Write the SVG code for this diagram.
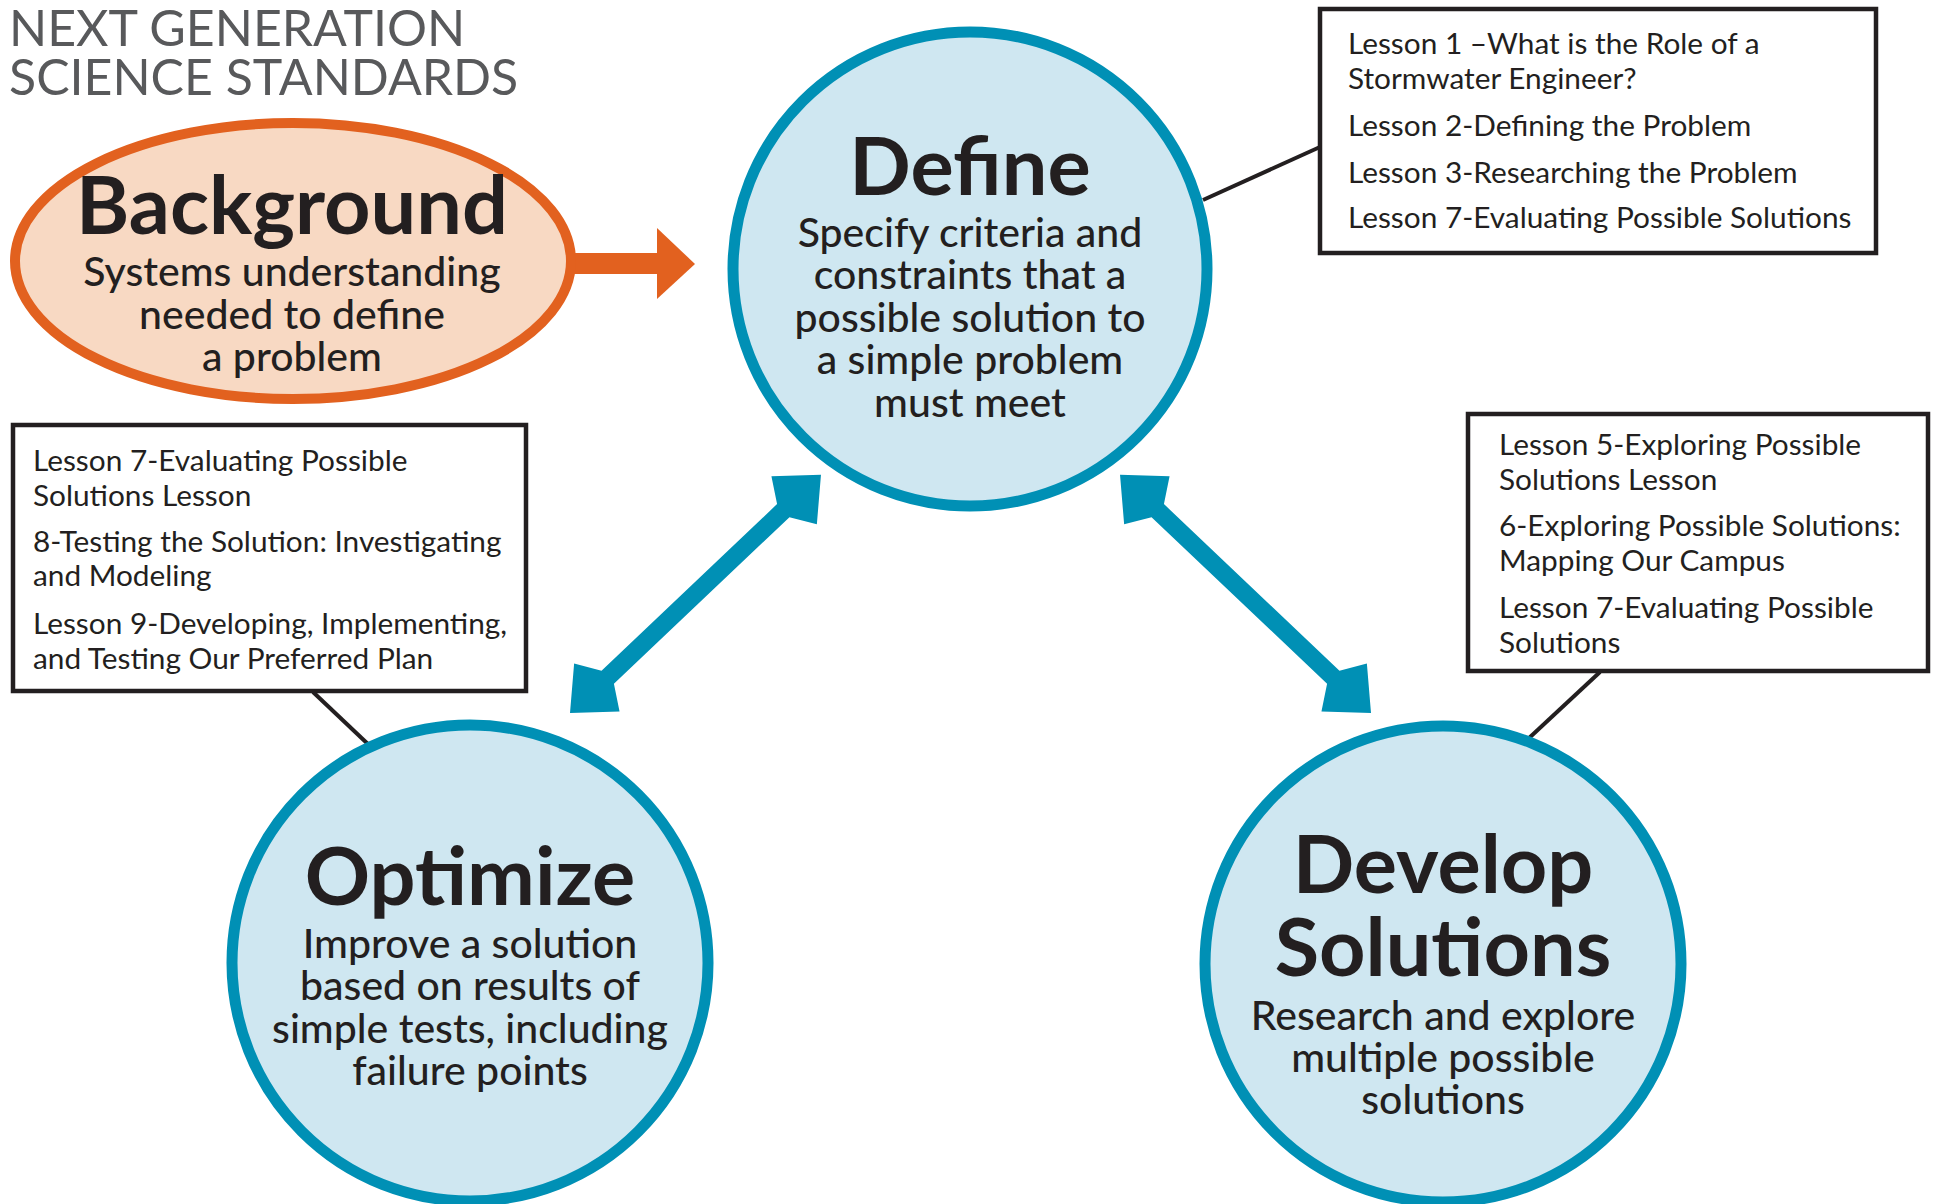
<svg xmlns="http://www.w3.org/2000/svg" width="1935" height="1204" viewBox="0 0 1935 1204">
<style>
.title{font-family:Lato,"Liberation Sans",sans-serif;font-size:50px;fill:#58595b;}
.head{font-family:Lato,"Liberation Sans",sans-serif;font-size:81px;font-weight:700;fill:#231f20;text-anchor:middle;}
.body{font-family:Lato,"Liberation Sans",sans-serif;font-size:41px;font-weight:500;fill:#231f20;text-anchor:middle;}
.les{font-family:Lato,"Liberation Sans",sans-serif;font-size:29.8px;fill:#231f20;}
.circ{fill:#cfe7f1;stroke:#0090b5;stroke-width:11;}
.box{fill:#ffffff;stroke:#231f20;stroke-width:4.5;}
.conn{stroke:#231f20;stroke-width:4;fill:none;}
.teal{fill:#0090b5;}
.orange{fill:#e2611f;}
</style>
<defs>
<polygon id="dbl" points="0,0 37,33 52,9 294,9 309,33 346,0 309,-33 294,-9 52,-9 37,-33"/>
</defs>
<rect width="1935" height="1204" fill="#ffffff"/>
<g id="title">
<text class="title" x="9" y="46">NEXT GENERATION</text>
<text class="title" x="9" y="95">SCIENCE STANDARDS</text>
</g>
<g id="connectors">
<line class="conn" x1="1203" y1="200" x2="1320" y2="147"/>
<line class="conn" x1="313" y1="692" x2="370" y2="746"/>
<line class="conn" x1="1600" y1="672" x2="1528" y2="739"/>
<g id="arrow-background-define">
<rect class="orange" x="570" y="253" width="90" height="21"/>
<polygon class="orange" points="657,228 695,264 657,299"/>
</g>
<g id="arrow-define-optimize" class="teal">
<use href="#dbl" transform="translate(570,713) rotate(-43.5)"/>
</g>
<g id="arrow-define-develop" class="teal">
<use href="#dbl" transform="translate(1941,0) scale(-1,1) translate(570,713) rotate(-43.5)"/>
</g>
</g>
<g id="background">
<ellipse cx="293" cy="261" rx="278" ry="138" fill="#f8d9c3" stroke="#e2611f" stroke-width="10"/>
<text class="head" x="292" y="234">Background</text>
<text class="body" x="292" y="286">Systems understanding</text>
<text class="body" x="292" y="329">needed to define</text>
<text class="body" x="292" y="371">a problem</text>
</g>
<g id="define">
<circle class="circ" cx="970" cy="269" r="237"/>
<text class="head" x="970" y="195">Define</text>
<text class="body" x="970" y="247">Specify criteria and</text>
<text class="body" x="970" y="289">constraints that a</text>
<text class="body" x="970" y="332">possible solution to</text>
<text class="body" x="970" y="374">a simple problem</text>
<text class="body" x="970" y="417">must meet</text>
</g>
<g id="optimize">
<circle class="circ" cx="470" cy="963" r="238"/>
<text class="head" x="470" y="905">Optimize</text>
<text class="body" x="470" y="958">Improve a solution</text>
<text class="body" x="470" y="1000">based on results of</text>
<text class="body" x="470" y="1043">simple tests, including</text>
<text class="body" x="470" y="1085">failure points</text>
</g>
<g id="develop">
<circle class="circ" cx="1443" cy="964" r="238"/>
<text class="head" x="1443" y="893">Develop</text>
<text class="head" x="1443" y="976">Solutions</text>
<text class="body" x="1443" y="1030">Research and explore</text>
<text class="body" x="1443" y="1072">multiple possible</text>
<text class="body" x="1443" y="1114">solutions</text>
</g>
<g id="define-lessons">
<rect class="box" x="1320" y="9" width="556" height="244"/>
<text class="les" x="1348" y="54">Lesson 1 –What is the Role of a</text>
<text class="les" x="1348" y="89">Stormwater Engineer?</text>
<text class="les" x="1348" y="136">Lesson 2-Defining the Problem</text>
<text class="les" x="1348" y="183">Lesson 3-Researching the Problem</text>
<text class="les" x="1348" y="228">Lesson 7-Evaluating Possible Solutions</text>
</g>
<g id="optimize-lessons">
<rect class="box" x="13" y="425" width="513" height="266"/>
<text class="les" x="33" y="471">Lesson 7-Evaluating Possible</text>
<text class="les" x="33" y="506">Solutions Lesson</text>
<text class="les" x="33" y="552">8-Testing the Solution: Investigating</text>
<text class="les" x="33" y="586">and Modeling</text>
<text class="les" x="33" y="634">Lesson 9-Developing, Implementing,</text>
<text class="les" x="33" y="669">and Testing Our Preferred Plan</text>
</g>
<g id="develop-lessons">
<rect class="box" x="1468" y="414" width="460" height="257"/>
<text class="les" x="1499" y="455">Lesson 5-Exploring Possible</text>
<text class="les" x="1499" y="490">Solutions Lesson</text>
<text class="les" x="1499" y="536">6-Exploring Possible Solutions:</text>
<text class="les" x="1499" y="571">Mapping Our Campus</text>
<text class="les" x="1499" y="618">Lesson 7-Evaluating Possible</text>
<text class="les" x="1499" y="653">Solutions</text>
</g>
</svg>
